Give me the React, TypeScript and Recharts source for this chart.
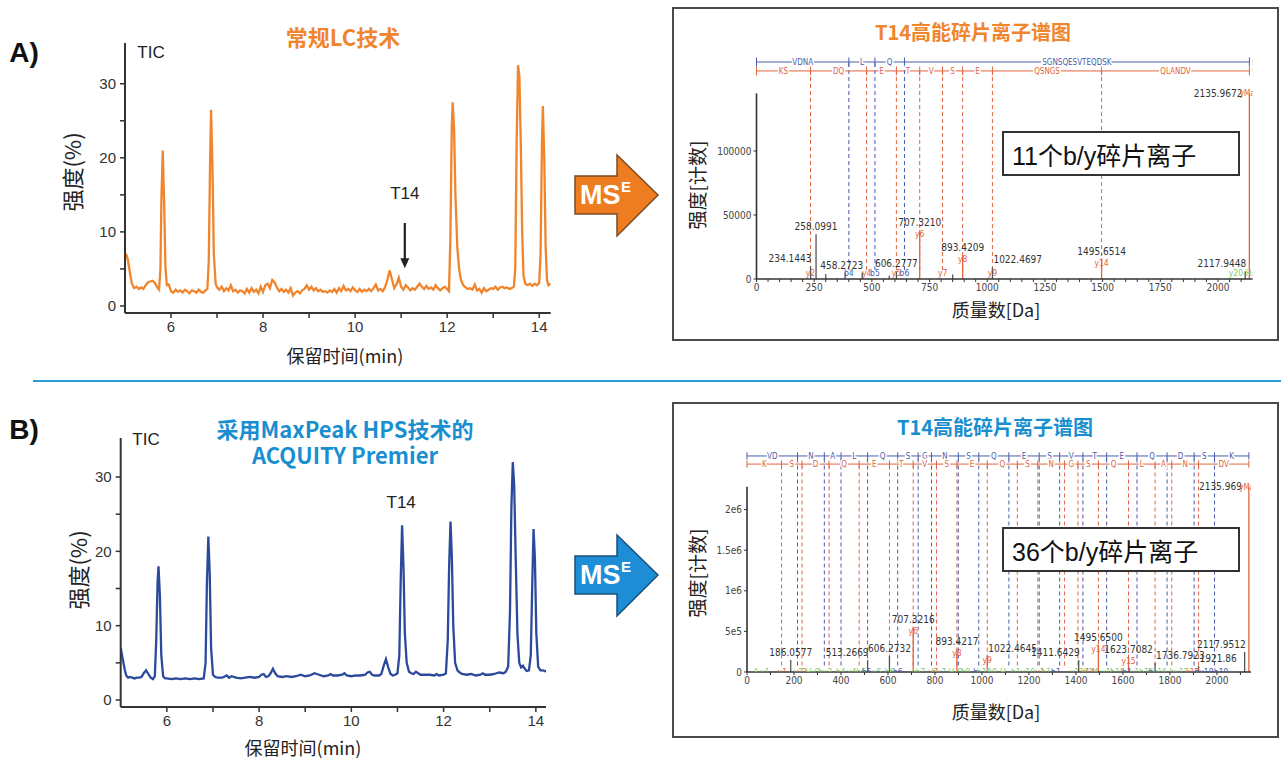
import React from "react";
import {
  ComposedChart,
  Line,
  XAxis,
  YAxis,
  Scatter,
  ReferenceLine,
  ReferenceDot,
} from "recharts";

const SANS = "'Liberation Sans', Arial, sans-serif";
const CJK = "'Noto Sans CJK SC', sans-serif";
const MIX = "'Liberation Sans', 'Noto Sans CJK SC', sans-serif";
const NARROW = "'Liberation Sans Narrow', 'DejaVu Sans Condensed', 'Liberation Sans', sans-serif";

const ORANGE = "#f0852d";
const TITLE_BLUE = "#1a8fd0";
const NAVY = "#2c4a9c";
const ION_RED = "#e3633f";
const ION_BLUE = "#4a5cab";
const LOSS_GREEN = "#86c86f";
const INK = "#333";

// ---- TIC, 常规LC技术 (A)
const timeA = [
  5.0, 5.03, 5.06, 5.09, 5.12, 5.15, 5.2, 5.25, 5.3, 5.35,
  5.4, 5.45, 5.5, 5.55, 5.6, 5.65, 5.7, 5.74, 5.77, 5.79,
  5.82, 5.85, 5.88, 5.91, 5.95, 6.0, 6.05, 6.1, 6.15, 6.2,
  6.25, 6.3, 6.35, 6.4, 6.45, 6.5, 6.55, 6.6, 6.65, 6.7,
  6.75, 6.79, 6.82, 6.85, 6.87, 6.9, 6.93, 6.97, 7.0, 7.05,
  7.1, 7.15, 7.2, 7.25, 7.3, 7.35, 7.4, 7.45, 7.5, 7.55,
  7.6, 7.65, 7.7, 7.75, 7.8, 7.85, 7.9, 7.95, 8.0, 8.05,
  8.1, 8.15, 8.2, 8.25, 8.3, 8.35, 8.4, 8.45, 8.5, 8.55,
  8.6, 8.65, 8.7, 8.75, 8.8, 8.85, 8.9, 8.95, 9.0, 9.05,
  9.1, 9.15, 9.2, 9.25, 9.3, 9.35, 9.4, 9.45, 9.5, 9.55,
  9.6, 9.65, 9.7, 9.75, 9.8, 9.85, 9.9, 9.95, 10.0, 10.05,
  10.1, 10.15, 10.2, 10.25, 10.3, 10.35, 10.4, 10.45, 10.5, 10.55,
  10.6, 10.65, 10.7, 10.75, 10.8, 10.85, 10.9, 10.95, 11.0, 11.05,
  11.1, 11.15, 11.2, 11.25, 11.3, 11.35, 11.4, 11.45, 11.5, 11.55,
  11.6, 11.65, 11.7, 11.75, 11.8, 11.85, 11.9, 11.95, 12.0, 12.04,
  12.07, 12.1, 12.12, 12.15, 12.18, 12.22, 12.26, 12.3, 12.35, 12.4,
  12.45, 12.5, 12.55, 12.6, 12.65, 12.7, 12.75, 12.8, 12.85, 12.9,
  12.95, 13.0, 13.05, 13.1, 13.15, 13.2, 13.25, 13.3, 13.35, 13.4,
  13.45, 13.48, 13.51, 13.54, 13.57, 13.6, 13.63, 13.66, 13.7, 13.75,
  13.8, 13.85, 13.9, 13.95, 14.0, 14.03, 14.06, 14.08, 14.11, 14.14,
  14.17, 14.2, 14.25,
];
const ticA = [
  6.8, 6.9, 6.3, 5.2, 4.0, 3.0, 2.4, 2.6, 2.3, 2.5,
  2.3, 2.8, 3.2, 3.3, 3.4, 3.1, 2.5, 2.2, 5.0, 14,
  21, 14, 5.0, 2.8, 2.9, 2.0, 1.8, 2.2, 1.9, 2.1,
  1.8, 2.2, 2.0, 1.7, 2.1, 2.0, 1.8, 2.2, 1.9, 1.8,
  2.1, 2.3, 6.0, 20, 26.5, 19, 7.0, 3.0, 2.5, 2.2,
  2.6, 2.0, 2.4, 2.1, 2.8, 2.0, 2.2, 1.8, 2.1, 2.0,
  1.7, 2.3, 1.8, 2.4, 1.9, 2.2, 1.7, 2.6, 1.9, 2.8,
  3.0, 2.4, 3.5, 3.2, 2.5, 2.0, 2.3, 1.9, 2.2, 1.8,
  2.4, 1.4, 1.8, 2.0, 1.7, 2.1, 2.3, 2.8, 2.2, 2.6,
  2.1, 2.4, 2.0, 2.2, 1.9, 2.0, 1.8, 2.1, 1.9, 2.3,
  1.8, 2.4, 2.0, 2.7, 2.1, 2.3, 2.0, 2.5, 2.1, 1.9,
  2.3, 1.9, 2.2, 2.0, 2.3, 2.0, 2.4, 2.9, 2.1, 2.3,
  2.0, 2.5, 3.5, 4.8, 3.6, 2.4, 2.9, 3.8, 2.6, 2.2,
  2.8, 2.5, 2.1, 2.4, 2.2, 2.6, 3.0, 2.6, 2.3, 2.7,
  2.3, 2.5, 2.2, 2.8, 2.4, 2.1, 2.4, 2.6, 2.3, 2.0,
  9.0, 24, 27.5, 24, 15, 8.0, 5.0, 3.5, 2.8, 2.5,
  2.3, 2.4, 2.2, 2.9, 2.1, 2.3, 1.8, 2.4, 2.0, 2.2,
  2.4, 2.3, 2.6, 2.2, 2.5, 2.6, 2.4, 2.5, 2.3, 2.4,
  2.6, 5.0, 22, 32.5, 31, 22, 10, 4.0, 3.0, 2.8,
  3.0, 2.7, 3.0, 2.8, 3.1, 7.0, 22, 27, 20, 8.0,
  3.5, 2.8, 3.0,
];

// ---- TIC, MaxPeak HPS / ACQUITY Premier (B)
const timeB = [
  5.0, 5.03, 5.06, 5.09, 5.12, 5.16, 5.2, 5.25, 5.3, 5.35,
  5.4, 5.45, 5.5, 5.55, 5.6, 5.65, 5.7, 5.74, 5.77, 5.8,
  5.82, 5.85, 5.88, 5.92, 5.96, 6.0, 6.1, 6.2, 6.3, 6.4,
  6.5, 6.6, 6.7, 6.8, 6.84, 6.87, 6.9, 6.93, 6.96, 7.0,
  7.05, 7.1, 7.2, 7.3, 7.35, 7.4, 7.5, 7.6, 7.7, 7.8,
  7.9, 8.0, 8.05, 8.1, 8.15, 8.2, 8.25, 8.3, 8.35, 8.4,
  8.5, 8.6, 8.7, 8.8, 8.9, 9.0, 9.1, 9.2, 9.3, 9.4,
  9.5, 9.55, 9.6, 9.7, 9.8, 9.85, 9.9, 10.0, 10.1, 10.2,
  10.3, 10.35, 10.4, 10.45, 10.5, 10.6, 10.65, 10.7, 10.75, 10.8,
  10.85, 10.9, 10.95, 11.0, 11.04, 11.07, 11.1, 11.13, 11.16, 11.2,
  11.25, 11.3, 11.35, 11.4, 11.45, 11.5, 11.6, 11.7, 11.8, 11.85,
  11.9, 12.0, 12.05, 12.09, 12.12, 12.15, 12.18, 12.21, 12.25, 12.3,
  12.35, 12.4, 12.5, 12.6, 12.7, 12.8, 12.85, 12.9, 13.0, 13.1,
  13.2, 13.3, 13.35, 13.4, 13.44, 13.47, 13.5, 13.53, 13.56, 13.6,
  13.64, 13.68, 13.72, 13.76, 13.8, 13.85, 13.89, 13.92, 13.95, 13.98,
  14.01, 14.05, 14.1, 14.15, 14.2, 14.22,
];
const ticB = [
  7.0, 6.0, 5.0, 4.0, 3.3, 3.0, 3.1, 3.0, 2.9, 3.0,
  3.0, 3.1, 3.6, 4.0, 3.5, 3.0, 2.8, 3.2, 8.0, 16,
  18, 14, 6.0, 3.2, 2.9, 2.9, 2.8, 2.9, 2.8, 2.9,
  2.8, 2.9, 2.8, 2.9, 5.0, 16, 22, 17, 7.0, 3.4,
  3.1, 3.0, 3.0, 3.3, 3.0, 3.2, 3.0, 2.9, 3.0, 3.1,
  3.0, 3.1, 3.4, 3.5, 3.1, 3.2, 3.6, 4.2, 3.6, 3.2,
  3.1, 3.2, 3.1, 3.2, 3.4, 3.2, 3.3, 3.6, 3.4, 3.2,
  3.3, 3.5, 3.3, 3.3, 3.4, 3.6, 3.3, 3.2, 3.3, 3.3,
  3.4, 3.7, 3.8, 3.4, 3.3, 3.3, 3.5, 4.6, 5.5, 4.4,
  3.5, 3.3, 3.4, 3.6, 6.0, 16, 23.5, 18, 9.0, 5.0,
  3.8, 3.6, 3.5, 3.8, 3.6, 3.4, 3.4, 3.4, 3.3, 3.5,
  3.3, 3.4, 3.6, 8.0, 18, 24, 19, 10, 5.0, 4.0,
  3.7, 3.5, 3.4, 3.5, 3.3, 3.4, 3.6, 3.4, 3.4, 3.5,
  3.7, 3.6, 3.8, 4.5, 12, 26, 32, 29, 20, 9.0,
  5.0, 4.4, 4.6, 4.2, 3.9, 4.0, 6.0, 15, 23, 19,
  9.0, 4.5, 4.0, 4.0, 3.9, 3.8,
];

const timeTicks = [6, 7, 8, 9, 10, 11, 12, 13, 14];
const timeTickLabels = ["6", "", "8", "", "10", "", "12", "", "14"];
const pctTicks = [0, 5, 10, 15, 20, 25, 30];
const pctTickLabels = ["0", "", "10", "", "20", "", "30"];

// T14 annotation (retention time, intensity levels)
const t14Time = 11.08;
const t14ArrowA = [11.2, 5.1];
const t14LabelA = 15.2;
const t14LabelB = 26.6;

// ---- T14 spectrum (A)
const massTicksA = [
  0, 50, 100, 150, 200, 250, 300, 350, 400, 450, 500, 550, 600, 650, 700, 750,
  800, 850, 900, 950, 1000, 1050, 1100, 1150, 1200, 1250, 1300, 1350, 1400,
  1450, 1500, 1550, 1600, 1650, 1700, 1750, 1800, 1850, 1900, 1950, 2000, 2050, 2100,
];
const massLabelsA = [0, 250, 500, 750, 1000, 1250, 1500, 1750, 2000];
const countTicksA = [0, 50000, 100000];
const countLabelsA = ["0", "50000", "100000"];

const bBreaksA = [0, 400.2, 513.3, 641.3, 2136];
const bResA = ["VDNA", "L", "Q", "SGNSQESVTEQDSK"];
const yBreaksA = [0, 234.1, 477.2, 606.3, 707.3, 806.4, 893.4, 1022.5, 1495.7, 2136];
const yResA = ["KS", "DQ", "E", "T", "V", "S", "E", "QSNGS", "QLANDV"];

const peakMzA = [234.1443, 258.0991, 300.1, 384.2, 458.2723, 575.3, 606.2777, 707.321, 850.4, 893.4209, 1022.4697, 1495.6514, 2117.9448, 2135.9672];
const peakIntA = [10000, 35000, 4000, 5000, 5000, 2500, 6000, 38000, 3500, 19000, 9000, 16000, 6000, 145000];
const peakIonA = ["", "", "", "", "", "", "", "y6", "", "y8", "", "y14", "", "yMax"];
const peakTextA = ["234.1443", "258.0991", "", "", "458.2723", "", "606.2777", "707.3210", "", "893.4209", "1022.4697", "1495.6514", "2117.9448", "2135.9672"];

const baseMzA = [234.1, 400.2, 477.2, 513.3, 606.3, 641.3, 806.4, 1022.5, 2116];
const baseTextA = ["y2", "b4", "y4", "b5", "y5", "b6", "y7", "y9", "y20-H₂O"];
const baseKindA = ["y", "b", "y", "b", "y", "b", "y", "y", "loss"];

// ---- T14 spectrum (B)
const massTicksB = [0, 100, 200, 300, 400, 500, 600, 700, 800, 900, 1000, 1100, 1200, 1300, 1400, 1500, 1600, 1700, 1800, 1900, 2000, 2100];
const massLabelsB = [0, 200, 400, 600, 800, 1000, 1200, 1400, 1600, 1800, 2000];
const countTicksB = [0, 500000, 1000000, 1500000, 2000000];
const countLabelsB = ["0", "5e5", "1e6", "1.5e6", "2e6"];

const bBreaksB = [0, 215.1, 329.1, 400.2, 513.3, 641.3, 728.4, 785.4, 899.4, 986.5, 1114.5, 1243.6, 1330.6, 1429.7, 1530.7, 1659.8, 1787.8, 1902.9, 1989.9, 2136];
const bResB = ["VD", "N", "A", "L", "Q", "S", "G", "N", "S", "Q", "E", "S", "V", "T", "E", "Q", "D", "S", "K"];
const yBreaksB = [0, 147.1, 234.1, 349.2, 477.2, 606.3, 707.3, 806.4, 893.4, 1022.5, 1150.5, 1237.6, 1351.6, 1408.6, 1495.7, 1623.7, 1736.8, 1807.8, 1921.9, 2136];
const yResB = ["K", "S", "D", "Q", "E", "T", "V", "S", "E", "Q", "S", "N", "G", "S", "Q", "L", "A", "N", "DV"];

const peakMzB = [186.0577, 513.2669, 606.2732, 707.3216, 893.4217, 1022.4645, 1411.6429, 1495.65, 1623.7082, 1736.7923, 1921.86, 2117.9512, 2135.969];
const peakIntB = [148000, 148000, 197000, 550000, 280000, 200000, 148000, 330000, 185000, 110000, 74000, 246000, 2280000];
const peakIonB = ["", "", "", "y6", "y8", "y9", "", "y14", "y15", "", "", "", "yMax"];
const peakTextB = ["186.0577", "513.2669", "606.2732", "707.3216", "893.4217", "1022.4645", "1411.6429", "1495.6500", "1623.7082", "1736.7923", "1921.86", "2117.9512", "2135.969"];

const baseMzB = [69, 151, 234, 256, 338, 404, 472, 510, 553, 613, 642, 734, 794, 853, 936, 973, 1009, 1063, 1175, 1248, 1279, 1315, 1405, 1451, 1464, 1532, 1577, 1622, 1681, 1719, 1757, 1839, 1895, 1945, 2018];
const baseTextB = ["ª y1-", "y1", "y2", "y2-H₂O", "by3-", "b4-", "y4b5-", "b5", "y5", "b6-", "b6", "yb7-", "y7", "by7-H₂O", "b9-", "b", "b10", "y9-H", "b1y10", "y1", "b1:", "b1", "y12", "y14", "b14", "y1'", "b15", "b1.", "y1b16", "b", "y16", "by17", "y17", "by18", "b19"];
const baseKindB = ["loss", "y", "y", "loss", "loss", "loss", "loss", "b", "loss", "loss", "b", "loss", "y", "loss", "loss", "b", "loss", "loss", "loss", "y", "loss", "b", "loss", "y", "loss", "loss", "loss", "b", "loss", "b", "loss", "loss", "y", "b", "b"];

const labelAnchor: Record<string, "start" | "middle" | "end"> = {
  "234.1443": "end",
  "458.2723": "end",
  "1022.4697": "start",
  "2117.9448": "end",
  "513.2669": "end",
  "1022.4645": "start",
  "1411.6429": "end",
  "1736.7923": "start",
  "1921.86": "start",
  "2117.9512": "end",
};

const kindColor: Record<string, string> = { y: ION_RED, b: ION_BLUE, loss: LOSS_GREEN };
const ionColor = (ion: string) =>
  ion.startsWith("y") ? ION_RED : ion.startsWith("b") ? ION_BLUE : "#555";

function TicChart({ time, tic, color, xMax, yMin, yMax, width, height, margin, children }: any) {
  const data = time.map((t: number, i: number) => ({ t, v: tic[i] }));
  return (
    <ComposedChart width={width} height={height} data={data} margin={margin}>
      <XAxis
        type="number"
        dataKey="t"
        domain={[5, xMax]}
        allowDataOverflow
        ticks={timeTicks}
        interval={0}
        tickFormatter={(v: number) => timeTickLabels[timeTicks.indexOf(v)]}
        axisLine={{ stroke: INK, strokeWidth: 2 }}
        tickLine={{ stroke: INK, strokeWidth: 1.5 }}
        tickSize={5}
        tickMargin={3}
        height={30}
        tick={{ fontSize: 15, fill: INK, fontFamily: SANS }}
      />
      <YAxis
        type="number"
        dataKey="v"
        domain={[yMin, yMax]}
        allowDataOverflow
        ticks={pctTicks}
        interval={0}
        width={40}
        tickFormatter={(v: number) => pctTickLabels[pctTicks.indexOf(v)]}
        axisLine={{ stroke: INK, strokeWidth: 2 }}
        tickLine={{ stroke: INK, strokeWidth: 1.5 }}
        tickSize={5}
        tickMargin={4}
        tick={{ fontSize: 15, fill: INK, fontFamily: SANS }}
      />
      <Line type="linear" dataKey="v" stroke={color} strokeWidth={2.3} dot={false} isAnimationActive={false} />
      {children}
    </ComposedChart>
  );
}

const t14Text = (s: any) => (
  <text x={s.cx} y={s.cy + 6} textAnchor="middle" fontSize={17} fill="#222" fontFamily={SANS}>
    T14
  </text>
);
const arrowHead = (s: any) => (
  <polygon points={`${s.cx - 4.5},${s.cy - 10} ${s.cx + 4.5},${s.cy - 10} ${s.cx},${s.cy}`} fill="#222" />
);

function Spectrum(p: any) {
  const lastB = p.bBreaks[p.bBreaks.length - 1];
  const lastY = p.yBreaks[p.yBreaks.length - 1];
  const peaks = p.peakMz.map((m: number, i: number) => ({ m, v: p.peakInt[i], ion: p.peakIon[i], text: p.peakText[i] }));
  const letters = (br: number[], res: string[], level: number) =>
    res.map((r, i) => ({ m: (br[i] + br[i + 1]) / 2, v: level, t: r }));
  const bLetters = letters(p.bBreaks, p.bRes, p.bLevel);
  const yLetters = letters(p.yBreaks, p.yRes, p.yLevel);
  const ends = [
    { m: lastB, v: p.bLevel, t: "bMax", c: ION_BLUE },
    { m: lastY, v: p.yLevel, t: "yMax", c: ION_RED },
  ];
  const base = p.baseMz.map((m: number, i: number) => ({ m, v: 0, t: p.baseText[i], k: p.baseKind[i] }));

  const letterShape = (color: string) => (s: any) => (
    <text
      x={s.cx}
      y={s.cy + 2.8}
      textAnchor="middle"
      fontSize={8}
      fill={color}
      stroke="#fff"
      strokeWidth={3}
      style={{ paintOrder: "stroke" }}
      fontFamily={NARROW}
    >
      {s.payload.t}
    </text>
  );
  const endShape = (s: any) => (
    <text x={s.cx + 3} y={s.cy + 2.8} fontSize={8} fill={s.payload.c} fontFamily={NARROW}>
      {s.payload.t}
    </text>
  );
  const peakShape = (s: any) => {
    const d = s.payload;
    if (!d.text) return <g />;
    if (d.ion === "yMax") {
      return (
        <g fontFamily={NARROW}>
          <text x={s.cx - 7} y={s.cy + 3.5} textAnchor="end" fontSize={10} fill="#333">{d.text}</text>
          <text x={s.cx} y={s.cy + 3} textAnchor="middle" fontSize={8} fill={ION_RED}>yMax</text>
        </g>
      );
    }
    const anchor = labelAnchor[d.text] || "middle";
    const dx = anchor === "middle" ? 0 : 1;
    return (
      <g fontFamily={NARROW}>
        {d.ion && (
          <text x={s.cx} y={s.cy + 7} textAnchor="middle" fontSize={8.5} fill={ionColor(d.ion)}>{d.ion}</text>
        )}
        <text x={s.cx + dx} y={s.cy - 4} textAnchor={anchor} fontSize={10} fill="#333">{d.text}</text>
      </g>
    );
  };
  const baseShape = (s: any) => {
    const d = s.payload;
    const dy = d.k === "loss" ? p.baseDyLoss : p.baseDyIon;
    return (
      <text x={s.cx} y={s.cy + dy} textAnchor="middle" fontSize={8.5} fill={kindColor[d.k]} fontFamily={NARROW}>
        {d.t}
      </text>
    );
  };

  return (
    <ComposedChart width={p.width} height={p.height} margin={p.margin}>
      <XAxis
        type="number"
        dataKey="m"
        domain={[0, p.massMax]}
        allowDataOverflow
        ticks={p.xTicks}
        interval={0}
        tickFormatter={(v: number) => (p.xLabels.includes(v) ? String(v) : "")}
        axisLine={{ stroke: INK, strokeWidth: 1.6 }}
        tickLine={{ stroke: INK }}
        tickSize={3}
        tickMargin={2}
        height={20}
        tick={{ fontSize: 10, fill: "#444", fontFamily: NARROW }}
      />
      <YAxis
        type="number"
        dataKey="v"
        domain={[0, p.countMax]}
        allowDataOverflow
        ticks={p.yTicks}
        interval={0}
        width={p.yAxisWidth}
        tickFormatter={(v: number) => p.yLabels[p.yTicks.indexOf(v)]}
        axisLine={false}
        tickLine={{ stroke: INK }}
        tickSize={3}
        tickMargin={2}
        tick={{ fontSize: 10, fill: "#444", fontFamily: NARROW }}
      />
      <ReferenceLine segment={[{ x: 0, y: 0 }, { x: 0, y: p.axisTop }]} stroke={INK} strokeWidth={1.6} />

      {p.yBreaks.slice(1, -1).map((m: number) => (
        <ReferenceLine key={`yd${m}`} segment={[{ x: m, y: p.dashFoot }, { x: m, y: p.yLevel }]} stroke={ION_RED} strokeWidth={1} strokeDasharray="4 3" />
      ))}
      {p.bBreaks.slice(1, -1).map((m: number) => (
        <ReferenceLine key={`bd${m}`} segment={[{ x: m, y: p.dashFoot }, { x: m, y: p.bLevel }]} stroke={ION_BLUE} strokeWidth={1} strokeDasharray="4 3" />
      ))}

      <ReferenceLine segment={[{ x: 0, y: p.bLevel }, { x: lastB, y: p.bLevel }]} stroke={ION_BLUE} strokeWidth={1} />
      <ReferenceLine segment={[{ x: 0, y: p.yLevel }, { x: lastY, y: p.yLevel }]} stroke={ION_RED} strokeWidth={1} />
      {p.bBreaks.map((m: number) => (
        <ReferenceLine key={`bt${m}`} segment={[{ x: m, y: p.bLevel - p.tickHalf }, { x: m, y: p.bLevel + p.tickHalf }]} stroke={ION_BLUE} strokeWidth={1} />
      ))}
      {p.yBreaks.map((m: number) => (
        <ReferenceLine key={`yt${m}`} segment={[{ x: m, y: p.yLevel - p.tickHalf }, { x: m, y: p.yLevel + p.tickHalf }]} stroke={ION_RED} strokeWidth={1} />
      ))}

      {peaks.map((d: any) => (
        <ReferenceLine key={`pk${d.m}`} segment={[{ x: d.m, y: 0 }, { x: d.m, y: d.v }]} stroke={ionColor(d.ion)} strokeWidth={1.3} />
      ))}

      <Scatter data={bLetters} shape={letterShape(ION_BLUE)} isAnimationActive={false} />
      <Scatter data={yLetters} shape={letterShape(ION_RED)} isAnimationActive={false} />
      <Scatter data={ends} shape={endShape} isAnimationActive={false} />
      <Scatter data={base} shape={baseShape} isAnimationActive={false} />
      <Scatter data={peaks} shape={peakShape} isAnimationActive={false} />
    </ComposedChart>
  );
}

function Txt({ x, y, size, color = INK, weight = 400, family = CJK, rotate = false, children }: any) {
  return (
    <div
      style={{
        position: "absolute",
        left: x,
        top: y,
        transform: `translate(-50%, -50%)${rotate ? " rotate(-90deg)" : ""}`,
        fontSize: size,
        color,
        fontWeight: weight,
        fontFamily: family,
        whiteSpace: "nowrap",
        lineHeight: 1.2,
        textAlign: "center",
      }}
    >
      {children}
    </div>
  );
}

function MsArrow({ top, fill, edge }: { top: number; fill: string; edge: string }) {
  return (
    <svg style={{ position: "absolute", left: 570, top }} width={95} height={90}>
      <polygon points="5,24 47,24 47,3 88,43 47,84 47,62 5,62" fill={fill} stroke={edge} strokeWidth={1.5} />
      <text x={10} y={52} fontSize={27} fontWeight="bold" fill="#fff" fontFamily={SANS}>MS</text>
      <text x={51} y={40} fontSize={15} fontWeight="bold" fill="#fff" fontFamily={SANS}>E</text>
    </svg>
  );
}

function Box({ left, top, width, height }: any) {
  return (
    <div
      style={{
        position: "absolute",
        left,
        top,
        width,
        height,
        border: "2px solid #4a4a4a",
        boxSizing: "border-box",
        pointerEvents: "none",
      }}
    />
  );
}

function CountBox({ top, children }: any) {
  return (
    <div
      style={{
        position: "absolute",
        left: 1002,
        top,
        width: 238,
        height: 45,
        border: "2px solid #333",
        boxSizing: "border-box",
        background: "#fff",
        display: "flex",
        alignItems: "center",
        paddingLeft: 8,
        fontSize: 25,
        fontFamily: MIX,
        color: "#111",
        whiteSpace: "nowrap",
      }}
    >
      {children}
    </div>
  );
}

export default function App() {
  return (
    <div
      style={{
        position: "absolute",
        left: 0,
        top: 0,
        width: 1281,
        height: 759,
        background: "#fff",
        overflow: "hidden",
        fontFamily: SANS,
      }}
    >
      {/* ---------- A: TIC ---------- */}
      <div style={{ position: "absolute", left: 0, top: 0 }}>
        <TicChart
          time={timeA}
          tic={ticA}
          color={ORANGE}
          xMax={14.25}
          yMin={-0.95}
          yMax={35.5}
          width={560}
          height={370}
          margin={{ top: 43, right: 9.3, bottom: 27, left: 85 }}
        >
          <ReferenceLine segment={[{ x: t14Time, y: t14ArrowA[0] }, { x: t14Time, y: t14ArrowA[1] + 1.2 }]} stroke="#222" strokeWidth={2.2} />
          <ReferenceDot x={t14Time} y={t14ArrowA[1]} r={0} shape={arrowHead} />
          <ReferenceDot x={t14Time} y={t14LabelA} r={0} shape={t14Text} />
        </TicChart>
      </div>
      <Txt x={24} y={53} size={28} weight={700} family={SANS} color="#111">A)</Txt>
      <Txt x={151} y={53} size={17} family={SANS} color="#222">TIC</Txt>
      <Txt x={343} y={36} size={22} weight={700} color={ORANGE}>常规LC技术</Txt>
      <Txt x={71} y={172} size={22} rotate color="#222">强度(%)</Txt>
      <Txt x={345} y={356} size={18} color="#222">保留时间(min)</Txt>

      {/* separator */}
      <div style={{ position: "absolute", left: 33, top: 380, width: 1248, height: 2, background: "#2b9ad6" }} />

      {/* ---------- B: TIC ---------- */}
      <div style={{ position: "absolute", left: 0, top: 390 }}>
        <TicChart
          time={timeB}
          tic={ticB}
          color={NAVY}
          xMax={14.22}
          yMin={-0.94}
          yMax={35.25}
          width={560}
          height={369}
          margin={{ top: 48, right: 14, bottom: 22, left: 80.7 }}
        >
          <ReferenceDot x={t14Time} y={t14LabelB} r={0} shape={t14Text} />
        </TicChart>
      </div>
      <Txt x={24} y={430} size={28} weight={700} family={SANS} color="#111">B)</Txt>
      <Txt x={146} y={440} size={17} family={SANS} color="#222">TIC</Txt>
      <Txt x={345} y={441} size={22} weight={700} color={TITLE_BLUE}>
        采用MaxPeak HPS技术的
        <br />
        ACQUITY Premier
      </Txt>
      <Txt x={77} y={570} size={22} rotate color="#222">强度(%)</Txt>
      <Txt x={303} y={748} size={18} color="#222">保留时间(min)</Txt>

      {/* MS^E arrows */}
      <MsArrow top={152} fill="#ee7d22" edge="#7a4b22" />
      <MsArrow top={532} fill="#1d8ed6" edge="#1c4e7a" />

      {/* ---------- A: spectrum ---------- */}
      <div style={{ position: "absolute", left: 672, top: 8 }}>
        <Spectrum
          width={606}
          height={332}
          margin={{ top: 44, right: 25.4, bottom: 41, left: 44.5 }}
          yAxisWidth={40}
          massMax={2150}
          countMax={177300}
          axisTop={145000}
          xTicks={massTicksA}
          xLabels={massLabelsA}
          yTicks={countTicksA}
          yLabels={countLabelsA}
          bLevel={169500}
          yLevel={162500}
          tickHalf={3500}
          dashFoot={7000}
          bBreaks={bBreaksA}
          bRes={bResA}
          yBreaks={yBreaksA}
          yRes={yResA}
          peakMz={peakMzA}
          peakInt={peakIntA}
          peakIon={peakIonA}
          peakText={peakTextA}
          baseMz={baseMzA}
          baseText={baseTextA}
          baseKind={baseKindA}
          baseDyLoss={-3}
          baseDyIon={-3}
        />
      </div>
      <Box left={672} top={7} width={607} height={334} />
      <Txt x={973} y={32} size={20} weight={700} color={ORANGE}>T14高能碎片离子谱图</Txt>
      <Txt x={697} y={185} size={19} rotate color="#222">强度[计数]</Txt>
      <Txt x={996} y={310} size={18} color="#222">质量数[Da]</Txt>
      <CountBox top={131}>11个b/y碎片离子</CountBox>

      {/* ---------- B: spectrum ---------- */}
      <div style={{ position: "absolute", left: 672, top: 403 }}>
        <Spectrum
          width={606}
          height={334}
          margin={{ top: 45, right: 27, bottom: 45, left: 40 }}
          yAxisWidth={35}
          massMax={2145}
          countMax={2758000}
          axisTop={2280000}
          xTicks={massTicksB}
          xLabels={massLabelsB}
          yTicks={countTicksB}
          yLabels={countLabelsB}
          bLevel={2660000}
          yLevel={2560000}
          tickHalf={45000}
          dashFoot={80000}
          bBreaks={bBreaksB}
          bRes={bResB}
          yBreaks={yBreaksB}
          yRes={yResB}
          peakMz={peakMzB}
          peakInt={peakIntB}
          peakIon={peakIonB}
          peakText={peakTextB}
          baseMz={baseMzB}
          baseText={baseTextB}
          baseKind={baseKindB}
          baseDyLoss={3}
          baseDyIon={3}
        />
      </div>
      <Box left={672} top={402} width={607} height={336} />
      <Txt x={995} y={427} size={20} weight={700} color={TITLE_BLUE}>T14高能碎片离子谱图</Txt>
      <Txt x={697} y={573} size={19} rotate color="#222">强度[计数]</Txt>
      <Txt x={996} y={712} size={18} color="#222">质量数[Da]</Txt>
      <CountBox top={527}>36个b/y碎片离子</CountBox>
    </div>
  );
}
